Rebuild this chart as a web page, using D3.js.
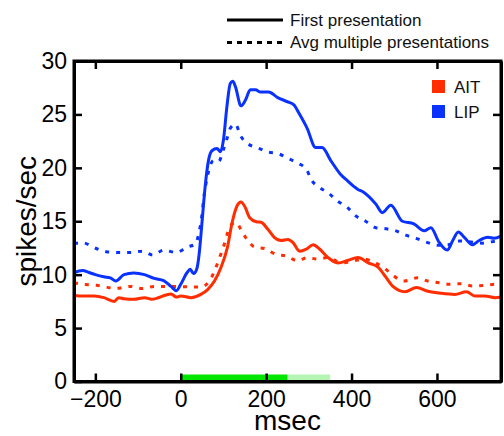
<!DOCTYPE html>
<html>
<head>
<meta charset="utf-8">
<script src="https://cdn.jsdelivr.net/npm/d3@7"></script>
<style>
  html, body { margin: 0; padding: 0; background: #fff; }
  svg { display: block; font-family: "Liberation Sans", Arial, Helvetica, sans-serif; }
</style>
</head>
<body>
<svg id="chart" width="504" height="436"></svg>
<script>
// Time axis (msec) and firing-rate axis (spikes/sec)
const timeDomain = [-250, 750];
const rateDomain = [0, 30];
const timeTicks = [-200, 0, 200, 400, 600];
const rateTicks = [0, 5, 10, 15, 20, 25, 30];

// Stimulus epochs shown along the time axis: [start, end]
const stimulusOn = [0, 250];
const stimulusTail = [250, 350];

// LIP, first presentation: [msec, spikes/sec]
const lipFirst = [
  [-250, 10.2], [-230, 10.4], [-215, 10.2], [-200, 10.0], [-180, 9.8], [-165, 9.7],
  [-152, 9.4], [-133, 10.0], [-110, 10.15], [-85, 10.0], [-62, 9.65], [-40, 9.45],
  [-23, 8.9], [-10, 8.5], [0, 9.1], [15, 10.2], [22, 10.5], [30, 10.1], [38, 10.6],
  [43, 11.9], [50, 15.0], [57, 18.2], [65, 20.7], [73, 21.6], [85, 21.8], [93, 21.5],
  [100, 22.6], [108, 25.7], [116, 27.9], [122, 28.1], [128, 27.6], [141, 25.8],
  [151, 26.3], [163, 27.3], [175, 27.3], [187, 27.1], [206, 27.1], [226, 26.6],
  [249, 26.2], [265, 25.9], [277, 25.1], [296, 23.7], [316, 21.9], [331, 21.9],
  [351, 20.7], [374, 19.4], [390, 18.8], [414, 18.0], [429, 17.7], [457, 16.6],
  [472, 15.8], [492, 16.5], [519, 15.0], [546, 14.75], [570, 14.1], [586, 14.4],
  [604, 13.1], [624, 12.3], [637, 13.2], [650, 14.0], [664, 13.5], [683, 12.8],
  [699, 13.2], [719, 13.5], [734, 13.4], [750, 13.6]
];

// LIP, averaged over multiple presentations
const lipAvg = [
  [-250, 12.9], [-232, 13.0], [-195, 12.4], [-172, 12.13], [-144, 12.07], [-117, 12.07],
  [-90, 12.2], [-66, 11.85], [-39, 12.3], [-11, 12.07], [16, 12.6], [34, 12.85],
  [42, 13.8], [50, 15.7], [54, 17.2], [62, 19.1], [77, 20.7], [89, 20.6], [99, 21.6],
  [108, 22.7], [116, 23.7], [128, 24.1], [140, 23.0], [155, 22.3], [179, 21.9],
  [202, 21.5], [230, 21.3], [253, 20.85], [277, 20.4], [296, 19.75], [304, 19.0],
  [324, 18.2], [347, 17.6], [367, 16.9], [390, 16.3], [410, 15.5], [433, 15.0],
  [457, 14.4], [480, 14.3], [504, 14.1], [527, 13.7], [551, 13.4], [578, 13.0],
  [602, 12.75], [626, 12.8], [653, 13.15], [680, 13.05], [707, 12.95], [734, 13.1],
  [750, 13.1]
];

// AIT, first presentation
const aitFirst = [
  [-250, 8.05], [-227, 8.0], [-203, 8.0], [-180, 7.85], [-156, 7.5], [-145, 7.85],
  [-133, 7.75], [-110, 7.7], [-85, 7.85], [-68, 7.7], [-23, 8.2], [-10, 7.9], [0, 8.0],
  [24, 7.85], [47, 8.15], [63, 8.6], [79, 9.4], [94, 10.65], [109, 12.5], [121, 15.0],
  [132, 16.45], [141, 16.8], [151, 16.3], [161, 15.35], [177, 14.95], [188, 14.9],
  [204, 14.25], [219, 13.5], [235, 13.2], [251, 13.3], [263, 13.0], [278, 12.2],
  [294, 12.4], [310, 12.8], [325, 12.4], [345, 11.6], [368, 11.1], [392, 11.35],
  [415, 11.6], [439, 11.1], [462, 10.7], [478, 9.9], [497, 8.9], [525, 8.4],
  [552, 8.8], [579, 8.45], [610, 8.25], [642, 8.15], [669, 8.4], [689, 8.0],
  [712, 8.0], [736, 7.85], [750, 7.9]
];

// AIT, averaged over multiple presentations
const aitAvg = [
  [-250, 9.25], [-232, 9.1], [-197, 9.0], [-176, 8.85], [-155, 8.7], [-118, 8.9],
  [-90, 8.7], [-62, 8.9], [-35, 8.9], [-8, 8.9], [22, 8.85], [47, 8.85], [67, 9.4],
  [79, 10.35], [91, 11.6], [102, 12.85], [110, 13.95], [122, 14.8], [130, 14.9],
  [141, 14.2], [157, 13.2], [172, 12.6], [200, 12.4], [223, 11.9], [247, 11.75],
  [274, 11.3], [297, 11.6], [321, 11.45], [344, 11.6], [355, 11.45], [379, 11.1],
  [406, 11.3], [429, 11.45], [456, 11.1], [476, 10.65], [495, 10.0], [523, 9.4],
  [554, 9.7], [578, 9.4], [605, 9.25], [628, 9.1], [656, 9.15], [683, 8.95],
  [711, 9.0], [738, 9.1], [750, 9.1]
];

const areaNames = ["AIT", "LIP"];
const areaColors = ["#ff2d00", "#0a32ff"];
const presentationNames = ["First presentation", "Avg multiple presentations"];

const svg = d3.select("#chart");
const plot = { left: 74, right: 501, top: 61, bottom: 381.5 };

const x = d3.scaleLinear().domain(timeDomain).range([plot.left, plot.right]);
const y = d3.scaleLinear().domain(rateDomain).range([plot.bottom, plot.top]);

const tickLen = 8;

// Stimulus bar on the time axis
const barH = 7;
svg.append("rect")
  .attr("x", x(stimulusTail[0])).attr("y", plot.bottom - barH)
  .attr("width", x(stimulusTail[1]) - x(stimulusTail[0])).attr("height", barH)
  .attr("fill", "#b4f5b4");
svg.append("rect")
  .attr("x", x(stimulusOn[0])).attr("y", plot.bottom - barH)
  .attr("width", x(stimulusOn[1]) - x(stimulusOn[0])).attr("height", barH)
  .attr("fill", "#00e600");

// Response curves
const line = d3.line()
  .x(d => x(d[0])).y(d => y(Math.max(rateDomain[0], Math.min(rateDomain[1], d[1]))))
  .curve(d3.curveMonotoneX);

const curves = [
  { data: aitAvg, color: areaColors[0], dotted: true },
  { data: lipAvg, color: areaColors[1], dotted: true },
  { data: aitFirst, color: areaColors[0], dotted: false },
  { data: lipFirst, color: areaColors[1], dotted: false }
];

svg.append("g")
  .selectAll("path")
  .data(curves)
  .join("path")
  .attr("d", d => line(d.data))
  .attr("fill", "none")
  .attr("stroke", d => d.color)
  .attr("stroke-width", 3)
  .attr("stroke-linejoin", "round")
  .attr("stroke-dasharray", d => d.dotted ? "4,7" : null);

// Axes: inward ticks on all four sides; the box is closed by the outer domain lines
function styleAxis(g) {
  g.select(".domain").attr("stroke", "black").attr("stroke-width", 3);
  g.selectAll(".tick line").attr("stroke", "black").attr("stroke-width", 2.5);
  g.selectAll(".tick text").attr("fill", "black").attr("font-size", 23)
    .attr("font-family", "'Liberation Sans', Arial, Helvetica, sans-serif");
}

svg.append("g")
  .attr("transform", `translate(0,${plot.bottom})`)
  .call(d3.axisBottom(x).tickValues(timeTicks).tickSizeInner(-tickLen).tickSizeOuter(0).tickPadding(9)
    .tickFormat(d => d < 0 ? "\u2212" + Math.abs(d) : d))
  .call(styleAxis);

svg.append("g")
  .attr("transform", `translate(0,${plot.top})`)
  .call(d3.axisTop(x).tickValues(timeTicks).tickSizeInner(-tickLen).tickSizeOuter(0).tickFormat(""))
  .call(styleAxis);

svg.append("g")
  .attr("transform", `translate(${plot.left},0)`)
  .call(d3.axisLeft(y).tickValues(rateTicks).tickSizeInner(-tickLen).tickSizeOuter(0).tickPadding(7))
  .call(styleAxis);

svg.append("g")
  .attr("transform", `translate(${plot.right},0)`)
  .call(d3.axisRight(y).tickValues(rateTicks.filter(v => v > 0 && v < 30)).tickSizeInner(-tickLen).tickSizeOuter(0).tickFormat(""))
  .call(styleAxis);

// Square off the frame corners
svg.append("rect")
  .attr("x", plot.left).attr("y", plot.top)
  .attr("width", plot.right - plot.left).attr("height", plot.bottom - plot.top)
  .attr("fill", "none").attr("stroke", "black").attr("stroke-width", 3);

// Axis titles
svg.append("text")
  .attr("x", (plot.left + plot.right) / 2).attr("y", 430)
  .attr("text-anchor", "middle").attr("font-size", 28)
  .text("msec");

svg.append("text")
  .attr("transform", `translate(36,${(plot.top + plot.bottom) / 2}) rotate(-90)`)
  .attr("text-anchor", "middle").attr("font-size", 28)
  .text("spikes/sec");

// Line-style legend above the plot
const styleLegend = svg.append("g");
presentationNames.forEach((name, i) => {
  const ly = 20 + i * 22.5;
  styleLegend.append("line")
    .attr("x1", 227).attr("x2", 283).attr("y1", ly).attr("y2", ly)
    .attr("stroke", "black").attr("stroke-width", 3)
    .attr("stroke-dasharray", i === 1 ? "5,5" : null);
  styleLegend.append("text")
    .attr("x", 290).attr("y", ly + 5.5)
    .attr("font-size", 17)
    .attr("fill", "#111")
    .text(name);
});

// Area legend inside the plot
const areaLegend = svg.append("g");
areaNames.forEach((name, i) => {
  const ly = 80 + i * 25;
  areaLegend.append("rect")
    .attr("x", 432).attr("y", ly).attr("width", 13).attr("height", 13)
    .attr("fill", areaColors[i]);
  areaLegend.append("text")
    .attr("x", 454).attr("y", ly + 13)
    .attr("font-size", 17)
    .attr("fill", "#111")
    .text(name);
});
</script>
</body>
</html>
